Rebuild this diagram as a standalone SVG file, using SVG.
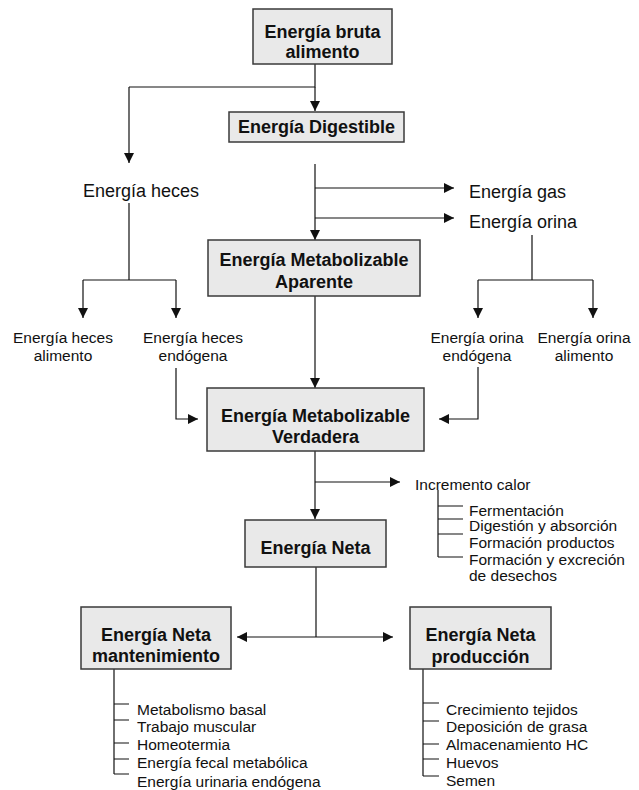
<svg xmlns="http://www.w3.org/2000/svg" width="639" height="790" viewBox="0 0 639 790">
<style>
.box{fill:#e9e9e9;stroke:#3a3a3a;stroke-width:1.5}
.bt{font-family:"Liberation Sans",Arial,sans-serif;font-weight:bold;font-size:18px;fill:#111;text-anchor:middle}
.lt{font-family:"Liberation Sans",Arial,sans-serif;font-size:18px;fill:#111}
.st{font-family:"Liberation Sans",Arial,sans-serif;font-size:15.5px;fill:#111}
.mid{text-anchor:middle}
.ln{fill:none;stroke:#111;stroke-width:1.2}
.ar{fill:none;stroke:#111;stroke-width:1.2;marker-end:url(#ah)}
</style>
<defs>
<marker id="ah" viewBox="0 0 10 10" refX="10" refY="5" markerWidth="10" markerHeight="10" markerUnits="userSpaceOnUse" orient="auto">
<path d="M0,0 L10,5 L0,10 Z" fill="#111"/>
</marker>
</defs>

<g id="connectors">
<path class="ln" d="M315,64 V87 H129"/>
<path class="ar" d="M315,87 V111"/>
<path class="ar" d="M129,87 V163"/>
<path class="ln" d="M129,203 V280 M83,280 H176"/>
<path class="ar" d="M83,280 V318"/>
<path class="ar" d="M176,280 V318"/>
<path class="ar" d="M315,164 V240"/>
<path class="ar" d="M315,188 H454"/>
<path class="ar" d="M315,218 H454"/>
<path class="ln" d="M532,235 V280 M478,280 H593"/>
<path class="ar" d="M478,280 V318"/>
<path class="ar" d="M593,280 V318"/>
<path class="ar" d="M315,296 V388"/>
<path class="ar" d="M176,368 V419 H198"/>
<path class="ar" d="M478,367 V419 H439"/>
<path class="ar" d="M315,451 V519"/>
<path class="ar" d="M315,482 H400"/>
<path class="ln" d="M438,490 V557 M438,506 H463 M438,519 H463 M438,534 H463 M438,557 H463"/>
<path class="ln" d="M316,567 V637"/>
<path class="ar" d="M316,637 H237"/>
<path class="ar" d="M316,637 H393"/>
<path class="ln" d="M114,669 V774 M114,704 H129 M114,720 H129 M114,743 H129 M114,759 H129 M114,774 H129"/>
<path class="ln" d="M423,669 V776 M423,703 H439 M423,721 H439 M423,744 H439 M423,759 H439 M423,776 H439"/>
</g>

<g id="bruta">
<rect class="box" x="253" y="9" width="139" height="55"/>
<text class="bt" x="322.5" y="38">Energía bruta</text>
<text class="bt" x="322.5" y="58">alimento</text>
</g>
<g id="digestible">
<rect class="box" x="229" y="112" width="175" height="30"/>
<text class="bt" x="316.5" y="133">Energía Digestible</text>
</g>
<g id="heces">
<text class="lt" x="83" y="197">Energía heces</text>
</g>
<g id="gas">
<text class="lt" x="469" y="198">Energía gas</text>
</g>
<g id="orina">
<text class="lt" x="469" y="228">Energía orina</text>
</g>
<g id="aparente">
<rect class="box" x="208" y="240" width="212" height="56"/>
<text class="bt" x="314" y="266">Energía Metabolizable</text>
<text class="bt" x="314" y="288">Aparente</text>
</g>
<g id="heces-alimento">
<text class="st mid" x="63" y="343">Energía heces</text>
<text class="st mid" x="63" y="361">alimento</text>
</g>
<g id="heces-endogena">
<text class="st mid" x="193" y="343">Energía heces</text>
<text class="st mid" x="193" y="361">endógena</text>
</g>
<g id="orina-endogena">
<text class="st mid" x="477" y="343">Energía orina</text>
<text class="st mid" x="477" y="361">endógena</text>
</g>
<g id="orina-alimento">
<text class="st mid" x="584" y="343">Energía orina</text>
<text class="st mid" x="584" y="361">alimento</text>
</g>
<g id="verdadera">
<rect class="box" x="207" y="388" width="217" height="63"/>
<text class="bt" x="315.5" y="422">Energía Metabolizable</text>
<text class="bt" x="315.5" y="443">Verdadera</text>
</g>
<g id="incremento">
<text class="st" x="415" y="490">Incremento calor</text>
<text class="st" x="469" y="515.5">Fermentación</text>
<text class="st" x="469" y="531">Digestión y absorción</text>
<text class="st" x="469" y="547.5">Formación productos</text>
<text class="st" x="469" y="564.5">Formación y excreción</text>
<text class="st" x="469" y="581">de desechos</text>
</g>
<g id="neta">
<rect class="box" x="245" y="520" width="141" height="47"/>
<text class="bt" x="315.5" y="554">Energía Neta</text>
</g>
<g id="mantenimiento">
<rect class="box" x="81" y="607" width="150" height="62"/>
<text class="bt" x="156" y="641">Energía Neta</text>
<text class="bt" x="156" y="662">mantenimiento</text>
<text class="st" x="137" y="715">Metabolismo basal</text>
<text class="st" x="137" y="732">Trabajo muscular</text>
<text class="st" x="137" y="750">Homeotermia</text>
<text class="st" x="137" y="768">Energía fecal metabólica</text>
<text class="st" x="137" y="787">Energía urinaria endógena</text>
</g>
<g id="produccion">
<rect class="box" x="410" y="607" width="141" height="62"/>
<text class="bt" x="480.5" y="641">Energía Neta</text>
<text class="bt" x="480.5" y="663">producción</text>
<text class="st" x="446" y="715">Crecimiento tejidos</text>
<text class="st" x="446" y="732">Deposición de grasa</text>
<text class="st" x="446" y="750">Almacenamiento HC</text>
<text class="st" x="446" y="768">Huevos</text>
<text class="st" x="446" y="786">Semen</text>
</g>
</svg>
